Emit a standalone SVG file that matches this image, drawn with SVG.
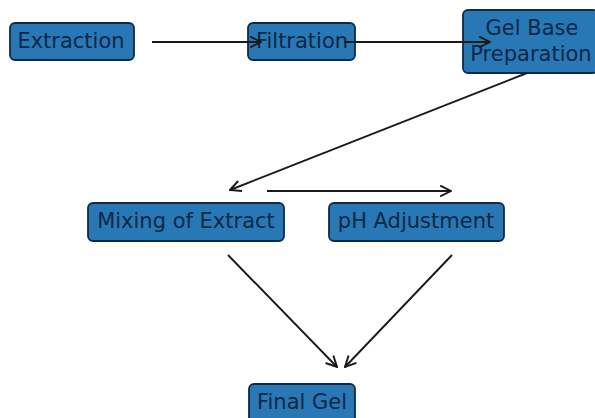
<svg xmlns="http://www.w3.org/2000/svg" width="595" height="418" viewBox="0 0 595 418">
<defs>
<marker id="ah" viewBox="0 0 12 12" refX="11" refY="6" markerWidth="13" markerHeight="13" markerUnits="userSpaceOnUse" orient="auto">
<path d="M1,1 L11,6 L1,11" fill="none" stroke="#1a1a1a" stroke-width="1.8"/>
</marker>
<style>
.box{fill:#2878b5;stroke:#0f2a47;stroke-width:1.8}
.lbl{font-family:"DejaVu Sans",sans-serif;font-size:21px;fill:#0d2748;text-anchor:middle;dominant-baseline:central}
.edge{stroke:#1a1a1a;stroke-width:1.9;fill:none;marker-end:url(#ah)}
</style>
</defs>
<rect width="595" height="418" fill="#ffffff"/>
<g id="extraction">
<rect class="box" x="10" y="23" width="124" height="37" rx="5"/>
<text class="lbl" x="71" y="41">Extraction</text>
</g>
<g id="filtration">
<rect class="box" x="248" y="23" width="107" height="37" rx="5"/>
<text class="lbl" x="302" y="41">Filtration</text>
</g>
<g id="gelbase">
<rect class="box" x="463" y="10" width="135" height="63" rx="5"/>
<text class="lbl" x="532" y="28">Gel Base</text>
<text class="lbl" x="531" y="54">Preparation</text>
</g>
<g id="mixing">
<rect class="box" x="88" y="203" width="196" height="38" rx="5"/>
<text class="lbl" x="186" y="221">Mixing of Extract</text>
</g>
<g id="ph">
<rect class="box" x="329" y="203" width="175" height="38" rx="5"/>
<text class="lbl" x="416" y="221">pH Adjustment</text>
</g>
<g id="finalgel">
<rect class="box" x="249" y="384" width="106" height="40" rx="5"/>
<text class="lbl" x="302" y="402">Final Gel</text>
</g>
<g id="connectors">
<line class="edge" x1="152" y1="42" x2="261" y2="42"/>
<line class="edge" x1="344" y1="42" x2="490" y2="42"/>
<line class="edge" x1="527" y1="73" x2="230" y2="190"/>
<line class="edge" x1="267" y1="191" x2="451" y2="191"/>
<line class="edge" x1="228" y1="255" x2="337" y2="367"/>
<line class="edge" x1="452" y1="255" x2="345" y2="367"/>
</g>
</svg>
